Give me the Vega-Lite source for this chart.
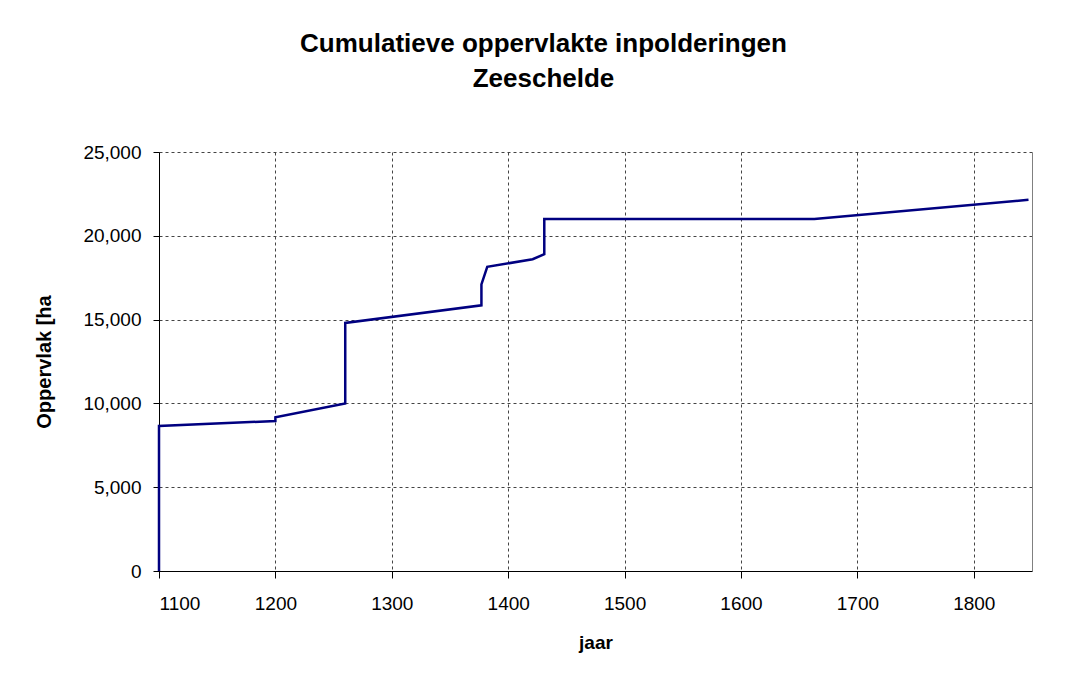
{
  "$schema": "https://vega.github.io/schema/vega-lite/v6.json",
  "autosize": {"type": "none"},
  "padding": {"left": 159, "top": 152, "right": 40, "bottom": 106},
  "width": 873,
  "height": 419,
  "background": "white",
  "title": {
    "text": ["Cumulatieve oppervlakte inpolderingen", "Zeeschelde"],
    "font": "Liberation Sans",
    "fontSize": 26,
    "fontWeight": "bold",
    "color": "black",
    "lineHeight": 35,
    "anchor": "middle",
    "dx": -52,
    "offset": 51
  },
  "data": {
    "values": [
      {"i": 1, "jaar": 1100, "opp": 0},
      {"i": 2, "jaar": 1100, "opp": 8650},
      {"i": 3, "jaar": 1200, "opp": 8950},
      {"i": 4, "jaar": 1200, "opp": 9170},
      {"i": 5, "jaar": 1260, "opp": 10000},
      {"i": 6, "jaar": 1260, "opp": 14800},
      {"i": 7, "jaar": 1377, "opp": 15850},
      {"i": 8, "jaar": 1377, "opp": 17100},
      {"i": 9, "jaar": 1382, "opp": 18150},
      {"i": 10, "jaar": 1421, "opp": 18600},
      {"i": 11, "jaar": 1431, "opp": 18900},
      {"i": 12, "jaar": 1431, "opp": 21000},
      {"i": 13, "jaar": 1663, "opp": 21000},
      {"i": 14, "jaar": 1847, "opp": 22150}
    ]
  },
  "config": {
    "view": {"stroke": null},
    "axis": {
      "labelFont": "Liberation Sans",
      "titleFont": "Liberation Sans",
      "labelColor": "black",
      "titleColor": "black",
      "labelFontSize": 19,
      "titleFontSize": 19,
      "titleFontWeight": "bold",
      "domainColor": "black",
      "tickColor": "black",
      "gridColor": "#444444",
      "gridDash": [3, 3],
      "gridWidth": 1,
      "gridOpacity": 1
    }
  },
  "layer": [
    {
      "mark": {"type": "line", "color": "#000080", "strokeWidth": 2.5, "clip": false},
      "encoding": {
        "x": {
          "field": "jaar", "type": "quantitative",
          "scale": {"domain": [1100, 1850], "nice": false, "zero": false},
          "axis": {"title": "jaar", "values": [1100, 1200, 1300, 1400, 1500, 1600, 1700, 1800], "format": "d", "tickSize": 7, "labelPadding": 16, "titlePadding": 20, "grid": true}
        },
        "y": {
          "field": "opp", "type": "quantitative",
          "scale": {"domain": [0, 25000], "nice": false},
          "axis": {"title": "Oppervlak [ha", "titleFontSize": 20, "values": [0, 5000, 10000, 15000, 20000, 25000], "format": ",d", "tickSize": 6, "labelPadding": 12, "titlePadding": 28, "grid": true}
        },
        "order": {"field": "i", "type": "quantitative"}
      }
    },
    {
      "mark": {"type": "line", "opacity": 0},
      "encoding": {
        "x": {"field": "jaar", "type": "quantitative"},
        "y": {
          "field": "opp", "type": "quantitative",
          "axis": {"orient": "right", "title": null, "labels": false, "ticks": false, "grid": false, "domainColor": "#808080"}
        },
        "order": {"field": "i", "type": "quantitative"}
      }
    }
  ],
  "resolve": {"axis": {"y": "independent"}}
}
